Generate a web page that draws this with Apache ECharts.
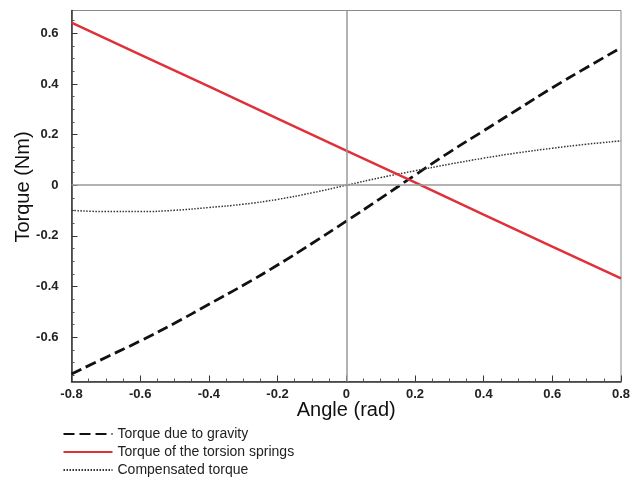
<!DOCTYPE html>
<html lang="en">
<head>
    <meta charset="UTF-8">
    <title>Torque vs angle</title>
    <script src="https://cdn.jsdelivr.net/npm/echarts@6/dist/echarts.min.js"></script>
</head>
<body style="margin:0;background:#fff;">
<div id="container" style="width:630px;height:478px;"></div>
<script>
    // angle (rad)
    var angles = [-0.8, -0.7, -0.6, -0.5, -0.4, -0.3, -0.2, -0.1, 0, 0.1, 0.2, 0.3, 0.4, 0.5, 0.6, 0.7, 0.8];
    // torque due to gravity (Nm)
    var gravity = [-0.745, -0.68, -0.615, -0.545, -0.47, -0.395, -0.315, -0.23, -0.142, -0.052, 0.04, 0.13, 0.215, 0.3, 0.385, 0.465, 0.543];
    // torque of the torsion springs (Nm)
    var springAngles = [-0.8, -0.6, -0.4, -0.2, 0, 0.2, 0.4, 0.6, 0.8];
    var springs = [0.642, 0.516, 0.39, 0.263, 0.137, 0.011, -0.116, -0.242, -0.368];
    // compensated torque (Nm)
    var compensated = [-0.099, -0.104, -0.104, -0.099, -0.088, -0.075, -0.056, -0.03, 0, 0.03, 0.057, 0.083, 0.107, 0.128, 0.146, 0.162, 0.175];

    var yLabels = [-0.6, -0.4, -0.2, 0, 0.2, 0.4, 0.6];
    var yMinor = [-0.75, -0.7, -0.65, -0.55, -0.5, -0.45, -0.35, -0.3, -0.25, -0.15, -0.1, -0.05,
        0.05, 0.1, 0.15, 0.25, 0.3, 0.35, 0.45, 0.5, 0.55, 0.65];

    function pairs(xs, ys) {
        var res = [];
        for (var i = 0; i < xs.length; i++) {
            res.push([xs[i], ys[i]]);
        }
        return res;
    }

    var font = 'Liberation Sans, Arial, Helvetica, sans-serif';
    var myChart = echarts.init(document.getElementById('container'));

    var option = {
        backgroundColor: '#fff',
        animation: false,
        textStyle: {fontFamily: font},
        grid: {
            left: 71.5, right: 9, top: 10.5, bottom: 96.5,
            outerBoundsMode: 'none',
            containLabel: false,
            show: true, borderColor: '#8a8a8a', borderWidth: 1
        },
        legend: {
            orient: 'vertical',
            left: 62.5,
            top: 427,
            padding: 0,
            itemWidth: 49,
            itemHeight: 10,
            itemGap: 4,
            itemStyle: {opacity: 0},
            textStyle: {fontSize: 14, color: '#222', fontFamily: font},
            data: ['Torque due to gravity', 'Torque of the torsion springs', 'Compensated torque']
        },
        xAxis: {
            type: 'value',
            min: -0.8,
            max: 0.8,
            interval: 0.2,
            name: 'Angle (rad)',
            nameLocation: 'middle',
            nameGap: 19,
            nameMoveOverlap: false,
            nameTextStyle: {fontSize: 20, color: '#111', verticalAlign: 'top'},
            axisLine: {onZero: false, lineStyle: {color: '#333', width: 1.5}},
            axisTick: {inside: true, length: 6, lineStyle: {color: '#333'}},
            minorTick: {show: true, splitNumber: 4, length: 3, lineStyle: {color: '#555'}},
            axisLabel: {fontSize: 13, fontWeight: 'bold', color: '#222', margin: 6},
            splitLine: {show: false}
        },
        yAxis: [{
            type: 'value',
            min: -0.775,
            max: 0.69,
            name: 'Torque (Nm)',
            nameLocation: 'middle',
            nameGap: 38,
            nameMoveOverlap: false,
            nameTextStyle: {fontSize: 20, color: '#111', padding: [0, 0, 0, 18]},
            axisLine: {onZero: false, lineStyle: {color: '#333', width: 1.5}},
            axisTick: {inside: true, length: 6, customValues: yLabels, lineStyle: {color: '#333'}},
            axisLabel: {fontSize: 13, fontWeight: 'bold', color: '#222', margin: 13, customValues: yLabels},
            splitLine: {show: false}
        }, {
            type: 'value',
            min: -0.775,
            max: 0.69,
            position: 'left',
            offset: 0,
            axisLine: {show: false, onZero: false},
            axisTick: {inside: true, length: 3, customValues: yMinor, lineStyle: {color: '#555'}},
            axisLabel: {show: false},
            splitLine: {show: false}
        }],
        series: [{
            name: 'Torque due to gravity',
            type: 'line',
            smooth: true,
            symbol: 'none',
            data: pairs(angles, gravity),
            lineStyle: {color: '#111', width: 2.8, type: [11, 5]},
            itemStyle: {color: '#111'},
            markLine: {
                silent: true,
                symbol: 'none',
                label: {show: false},
                lineStyle: {color: '#999', width: 1.5, type: 'solid'},
                data: [{xAxis: 0}, {yAxis: 0}]
            },
            z: 3
        }, {
            name: 'Torque of the torsion springs',
            type: 'line',
            symbol: 'none',
            data: pairs(springAngles, springs),
            lineStyle: {color: '#e0303a', width: 2.5},
            itemStyle: {color: '#e0303a'},
            z: 4
        }, {
            name: 'Compensated torque',
            type: 'line',
            smooth: true,
            symbol: 'none',
            data: pairs(angles, compensated),
            lineStyle: {color: '#333', width: 1.5, type: [1.5, 1.5]},
            itemStyle: {color: '#333'},
            z: 3
        }]
    };
    myChart.setOption(option);
</script>
</body>
</html>
